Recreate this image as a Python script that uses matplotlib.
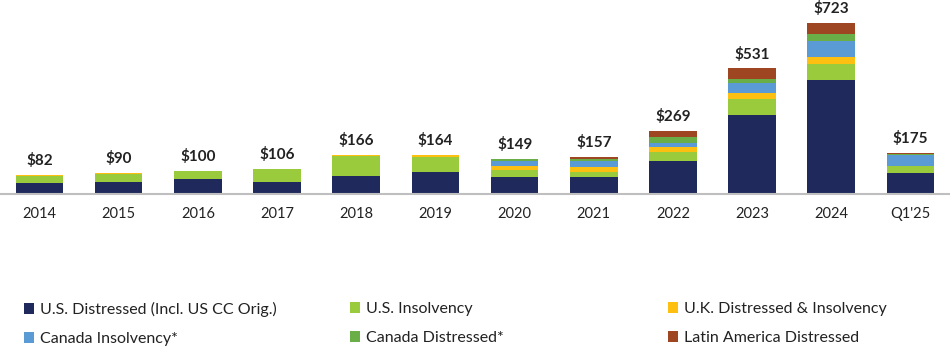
import matplotlib
matplotlib.use('Agg')
from matplotlib import pyplot as plt
from matplotlib.patches import Patch
import numpy as np

plt.rcParams['font.family'] = ['Lato', 'DejaVu Sans']

periods = ['2014', '2015', '2016', '2017', '2018', '2019', '2020', '2021', '2022', '2023', '2024', "Q1'25"]
totals = [82, 90, 100, 106, 166, 164, 149, 157, 269, 531, 723, 175]

us_distressed = [46, 54, 65, 54, 76, 94, 73, 71, 139, 336, 482, 91]
us_insolvency = [30, 30, 35, 52, 85, 62, 31, 24, 39, 66, 69, 27]
uk_dist_insolv = [6, 6, 0, 0, 5, 8, 14, 20, 21, 27, 30, 3]
canada_insolv = [0, 0, 0, 0, 0, 0, 23, 25, 18, 40, 65, 44]
canada_distressed = [0, 0, 0, 0, 0, 0, 8, 10, 25, 18, 32, 6]
latam_distressed = [0, 0, 0, 0, 0, 0, 0, 7, 27, 44, 45, 4]

series = [
    ('U.S. Distressed (Incl. US CC Orig.)', us_distressed, '#1f295c'),
    ('U.S. Insolvency', us_insolvency, '#9acb3c'),
    ('U.K. Distressed & Insolvency', uk_dist_insolv, '#fdc010'),
    ('Canada Insolvency*', canada_insolv, '#5b9bd5'),
    ('Canada Distressed*', canada_distressed, '#6aae47'),
    ('Latin America Distressed', latam_distressed, '#9e4622'),
]

fig = plt.figure(figsize=(9.5, 3.5), dpi=100)
ax = fig.add_axes([0, 1 - 194.3 / 350, 1, 194.3 / 350])

x = np.arange(len(periods))
bottom = np.zeros(len(periods))
for name, vals, col in series:
    ax.bar(x, vals, width=0.6, bottom=bottom, color=col, label=name)
    bottom += np.array(vals)

for xi, tot, b in zip(x, totals, bottom):
    ax.annotate('$' + str(tot), (xi, b), xytext=(0, 5), textcoords='offset points',
                ha='center', va='bottom', fontsize=11, fontweight='bold', color='#222222')

ax.set_xlim(-0.5, len(periods) - 0.5)
ax.set_ylim(0, 820)
ax.set_xticks(x)
ax.set_xticklabels(periods, fontsize=10.5, color='#222222')
ax.tick_params(axis='x', length=0, pad=9)
ax.set_yticks([])
for s in ['top', 'right', 'left']:
    ax.spines[s].set_visible(False)
ax.spines['bottom'].set_color('#bfbfbf')
ax.spines['bottom'].set_linewidth(1.5)

# three legend columns placed by hand
col_x = [16 / 950, 342 / 950, 660 / 950]
for i in range(3):
    items = [series[i], series[i + 3]]
    handles = [Patch(facecolor=c) for _, _, c in items]
    leg = fig.legend(handles, [n for n, _, _ in items], loc='upper left',
                     bbox_to_anchor=(col_x[i], 1 - 294 / 350), frameon=False,
                     fontsize=11.5, handlelength=0.65, handleheight=0.65,
                     handletextpad=0.35, labelspacing=0.95, borderpad=0)
    for t in leg.get_texts():
        t.set_color('#222222')

plt.savefig('out.png', dpi=100)
